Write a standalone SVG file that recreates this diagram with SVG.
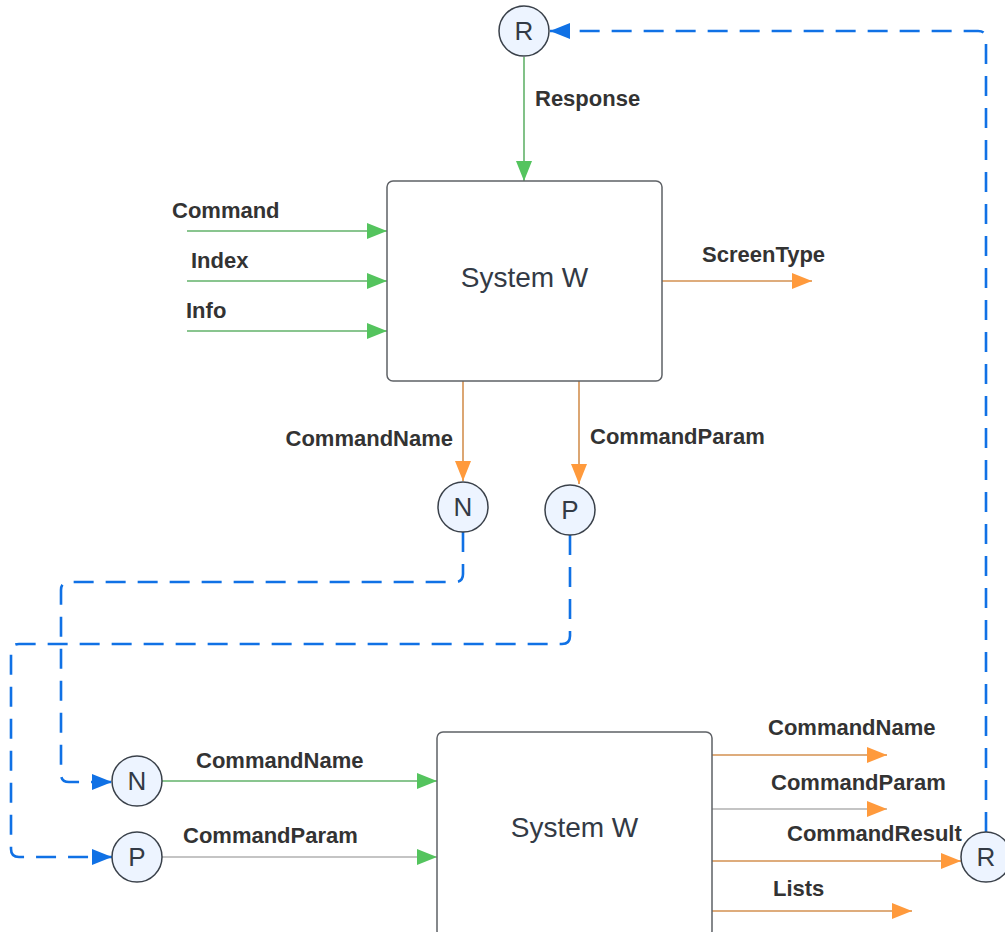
<svg xmlns="http://www.w3.org/2000/svg" width="1005" height="932" viewBox="0 0 1005 932">
<defs>
<marker id="ag" markerUnits="userSpaceOnUse" markerWidth="22" markerHeight="16" refX="20" refY="8" orient="auto"><path d="M0,0 L20,8 L0,16 Z" fill="#54c45e"/></marker>
<marker id="ao" markerUnits="userSpaceOnUse" markerWidth="22" markerHeight="16" refX="20" refY="8" orient="auto"><path d="M0,0 L20,8 L0,16 Z" fill="#ff9a3c"/></marker>
<marker id="ab" markerUnits="userSpaceOnUse" markerWidth="22" markerHeight="16" refX="20" refY="8" orient="auto"><path d="M0,0 L20,8 L0,16 Z" fill="#1071e5"/></marker>
</defs>
<style>
.box{fill:#fff;stroke:#5e6166;stroke-width:1.5}
.circ{fill:#edf4ff;stroke:#3a414a;stroke-width:1.5}
.ct{font-family:"Liberation Sans",Arial,sans-serif;font-size:26px;fill:#333a45;text-anchor:middle}
.bt{font-family:"Liberation Sans",Arial,sans-serif;font-size:28px;fill:#333a45;text-anchor:middle}
.lb{font-family:"Liberation Sans",Arial,sans-serif;font-size:22px;font-weight:bold;fill:#333333}
.g{stroke:#62b26a;stroke-width:1.6;fill:none;marker-end:url(#ag)}
.o{stroke:#d39050;stroke-width:1.6;fill:none;marker-end:url(#ao)}
.gy{stroke:#b0b0b0;stroke-width:1.6;fill:none}
.d{stroke:#1071e5;stroke-width:2.6;fill:none;stroke-dasharray:20 12;marker-end:url(#ab)}
</style>
<rect width="1005" height="932" fill="#fff"/>
<g id="connectors">
<path class="g" d="M524,57 V181"/>
<path class="g" d="M187,231 H387"/>
<path class="g" d="M187,281 H387"/>
<path class="g" d="M187,331 H387"/>
<path class="o" d="M662,281 H812"/>
<path class="o" d="M463,381 V481"/>
<path class="o" d="M579,381 V484"/>
<path class="d" d="M463,532 V574 Q463,582 455,582 H69 Q61,582 61,590 V774 Q61,782 69,782 H112"/>
<path class="d" d="M570,535 V636 Q570,644 562,644 H19 Q11,644 11,652 V849 Q11,857 19,857 H112"/>
<path class="d" d="M986,832 V39 Q986,31 978,31 H550"/>
<path class="g" d="M162,781 H437"/>
<path class="gy" d="M162,857 H437" style="marker-end:url(#ag)"/>
<path class="o" d="M712,755 H887"/>
<path class="gy" d="M712,809 H887" style="marker-end:url(#ao)"/>
<path class="o" d="M712,861 H961"/>
<path class="o" d="M712,911 H912"/>
</g>
<g id="labels">
<text class="lb" x="535" y="106">Response</text>
<text class="lb" x="172" y="218">Command</text>
<text class="lb" x="191" y="268">Index</text>
<text class="lb" x="186" y="318">Info</text>
<text class="lb" x="702" y="262">ScreenType</text>
<text class="lb" x="453" y="446" text-anchor="end">CommandName</text>
<text class="lb" x="590" y="444">CommandParam</text>
<text class="lb" x="196" y="768">CommandName</text>
<text class="lb" x="183" y="843">CommandParam</text>
<text class="lb" x="768" y="735">CommandName</text>
<text class="lb" x="771" y="790">CommandParam</text>
<text class="lb" x="787" y="841">CommandResult</text>
<text class="lb" x="773" y="896">Lists</text>
</g>
<g id="box1"><rect class="box" x="387" y="181" width="275" height="200" rx="6"/><text class="bt" x="524.5" y="287">System W</text></g>
<g id="box2"><rect class="box" x="437" y="732" width="275" height="205" rx="6"/><text class="bt" x="574.5" y="837">System W</text></g>
<g id="R1"><circle class="circ" cx="524" cy="31" r="25"/><text class="ct" x="524" y="40">R</text></g>
<g id="N1"><circle class="circ" cx="463" cy="507" r="25"/><text class="ct" x="463" y="516">N</text></g>
<g id="P1"><circle class="circ" cx="570" cy="510" r="25"/><text class="ct" x="570" y="519">P</text></g>
<g id="N2"><circle class="circ" cx="137" cy="781" r="25"/><text class="ct" x="137" y="790">N</text></g>
<g id="P2"><circle class="circ" cx="137" cy="857" r="25"/><text class="ct" x="137" y="866">P</text></g>
<g id="R2"><circle class="circ" cx="986" cy="857" r="25"/><text class="ct" x="986" y="866">R</text></g>
</svg>
